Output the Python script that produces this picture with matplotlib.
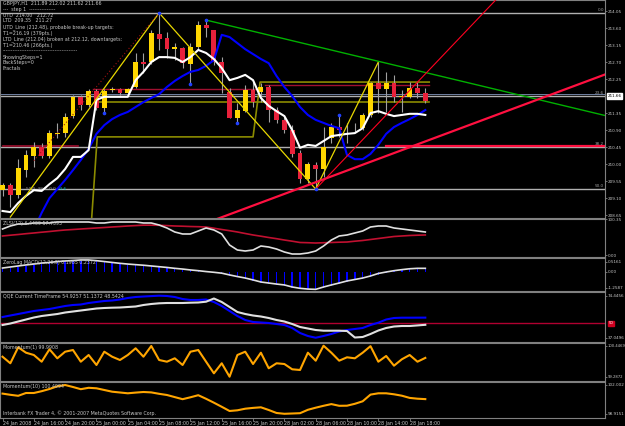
import numpy as np
import matplotlib.pyplot as plt
from matplotlib import transforms

W, H = 625, 426

# GBPJPY H1 bars
opens = [209.32, 209.45, 209.18, 209.84, 210.21, 210.45, 210.21, 210.80, 210.82, 211.27,
         211.78, 211.56, 211.93, 211.48, 211.96, 211.99, 211.88, 212.04, 212.70, 212.70,
         213.44, 213.34, 213.04, 213.07, 212.65, 213.10, 213.68, 213.55, 212.70, 211.91,
         211.22, 211.40, 211.96, 211.91, 212.04, 211.43, 211.17, 210.90, 210.29, 209.61,
         209.98, 209.87, 210.69, 210.98, 210.95, 210.95, 210.95, 211.30, 212.15, 211.99,
         212.15, 211.78, 211.78, 212.01, 211.89]
highs = [209.50, 209.50, 210.13, 210.37, 210.58, 210.56, 210.90, 211.09, 211.35, 211.83,
         211.83, 211.99, 211.99, 211.99, 212.04, 212.01, 212.01, 212.94, 212.94, 213.55,
         214.00, 213.49, 213.20, 213.10, 213.20, 213.79, 213.81, 213.55, 212.83, 212.01,
         211.62, 212.09, 212.17, 212.15, 212.09, 211.51, 211.25, 211.03, 210.37, 210.06,
         210.06, 210.98, 211.09, 211.30, 211.09, 211.09, 211.35, 212.17, 212.70, 212.44,
         212.36, 211.96, 212.17, 212.17, 212.02]
lows = [209.16, 208.87, 209.10, 209.66, 209.92, 210.16, 210.16, 210.69, 210.72, 211.22,
        211.43, 211.51, 211.43, 211.35, 211.91, 211.83, 211.83, 212.01, 212.41, 212.65,
        213.02, 212.81, 212.75, 212.54, 212.12, 213.02, 213.36, 212.62, 211.88, 211.22,
        211.09, 211.38, 211.51, 211.64, 211.11, 211.09, 210.82, 210.19, 209.50, 209.50,
        209.34, 209.66, 210.56, 210.72, 210.56, 210.85, 210.90, 211.25, 211.35, 211.38,
        211.64, 211.38, 211.75, 211.75, 211.62]
closes = [209.45, 209.18, 209.90, 210.24, 210.45, 210.21, 210.82, 210.82, 211.25, 211.78,
          211.56, 211.93, 211.48, 211.93, 211.99, 211.88, 211.99, 212.70, 212.65, 213.47,
          213.31, 213.04, 213.10, 212.67, 213.10, 213.68, 213.60, 212.70, 212.41, 211.22,
          211.43, 211.96, 211.64, 212.04, 211.43, 211.17, 210.90, 210.27, 209.61, 210.00,
          209.87, 210.45, 210.98, 210.90, 210.96, 210.96, 211.30, 212.15, 211.99, 212.15,
          211.78, 211.79, 212.01, 211.88, 211.66]

fast_ma = [208.76, 208.73, 208.97, 209.16, 209.31, 209.29, 209.47, 209.63, 209.87, 210.19,
           210.19, 210.37, 211.70, 211.78, 211.78, 211.78, 211.78, 212.22, 212.44, 212.70,
           212.83, 212.83, 212.81, 212.70, 212.83, 213.02, 212.94, 212.78, 212.54, 212.22,
           212.28, 212.36, 212.22, 211.75, 211.54, 211.40, 211.27, 210.90, 210.43, 210.51,
           210.48, 210.61, 210.74, 210.77, 210.80, 210.82, 210.95, 211.35, 211.40, 211.33,
           211.27, 211.30, 211.33, 211.33, 211.30]
slow_ma = [206.56, 206.99, 207.41, 207.83, 208.26, 208.71, 209.10, 209.34, 209.58, 209.84,
           210.11, 210.40, 210.80, 211.03, 211.19, 211.30, 211.38, 211.51, 211.64, 211.75,
           211.85, 212.04, 212.20, 212.33, 212.44, 212.49, 212.60, 212.75, 213.42, 213.36,
           213.20, 213.04, 212.91, 212.78, 212.67, 212.33, 212.04, 211.80, 211.51, 211.30,
           211.17, 211.09, 211.01, 210.95, 210.24, 210.13, 210.13, 210.27, 210.51, 210.80,
           210.98, 211.09, 211.19, 211.30, 211.43]

fractal_up = [20, 26, 43]
fractal_dn = [13, 24, 30, 40]

zigzag_bars = [1, 20, 40, 48]
zigzag_prices = [208.60, 214.00, 209.34, 212.70]

fib_levels = [0.0, 23.6, 38.2, 50.0]
fib_top, fib_bottom = 214.00, 204.70

utd_bars, utd_prices = [26, 48], [213.81, 212.72]
ltd_bars, ltd_prices = [40, 48], [209.34, 211.08]
support_bars, support_prices = [40, 54], [209.52, 210.60]
dotted_bars, dotted_prices = [4, 20], [210.09, 214.00]

step_bars = [11.2, 12.1, 32.0, 32.9, 54.5]
step_prices = [208.0, 210.72, 210.72, 212.17, 212.17]

# indicator windows
zlsi = [73.0, 81.1, 86.5, 86.5, 89.2, 89.2, 89.2, 91.9, 91.9, 91.9,
        91.9, 91.9, 89.2, 89.2, 91.9, 91.9, 91.9, 91.9, 89.2, 89.2,
        83.8, 75.7, 64.9, 59.5, 59.5, 67.6, 75.7, 70.3, 59.5, 29.7,
        16.2, 13.5, 16.2, 27.0, 24.3, 18.9, 10.8, 5.4, 5.4, 8.1,
        13.5, 27.0, 43.2, 54.1, 56.8, 62.2, 67.6, 78.4, 81.1, 81.1,
        75.7, 73.0, 70.3, 67.6, 64.9]
zlsi_signal = [54.1, 56.2, 58.1, 60.3, 62.2, 64.3, 66.2, 68.4, 70.3, 71.6,
               73.0, 74.3, 75.7, 77.0, 78.4, 79.7, 81.1, 82.2, 83.3, 83.3,
               83.0, 82.2, 81.1, 80.5, 79.7, 79.2, 78.4, 75.1, 71.6, 68.4,
               64.9, 60.8, 56.8, 53.5, 50.0, 46.8, 43.2, 40.0, 36.5, 35.9,
               35.1, 35.9, 36.5, 37.3, 37.8, 40.0, 41.9, 44.6, 47.3, 50.0,
               52.7, 54.1, 55.4, 56.2, 56.8]

macd_hist = [0.20, 0.28, 0.35, 0.42, 0.48, 0.55, 0.60, 0.66, 0.70, 0.73,
             0.75, 0.75, 0.72, 0.66, 0.60, 0.54, 0.49, 0.44, 0.40, 0.36,
             0.31, 0.26, 0.20, 0.15, 0.09, 0.04, -0.01, -0.07, -0.14, -0.27,
             -0.39, -0.50, -0.63, -0.76, -0.84, -0.91, -0.98, -1.08, -1.15, -1.19,
             -1.19, -1.10, -0.96, -0.83, -0.70, -0.58, -0.48, -0.36, -0.22, -0.10,
             0.02, 0.10, 0.16, 0.20, 0.21]
macd_line = [0.25, 0.32, 0.39, 0.46, 0.52, 0.59, 0.63, 0.69, 0.73, 0.76,
             0.80, 0.80, 0.75, 0.69, 0.63, 0.57, 0.52, 0.48, 0.44, 0.39,
             0.34, 0.29, 0.23, 0.18, 0.12, 0.07, 0.01, -0.04, -0.10, -0.22,
             -0.33, -0.43, -0.56, -0.70, -0.77, -0.84, -0.90, -1.04, -1.13, -1.18,
             -1.20, -1.04, -0.90, -0.77, -0.63, -0.53, -0.43, -0.29, -0.12, -0.02,
             0.07, 0.14, 0.20, 0.23, 0.23]

qqe_blue = [55.49, 56.82, 58.16, 59.49, 60.83, 61.72, 62.61, 63.94, 65.28, 66.17,
            66.61, 67.95, 68.84, 69.73, 70.17, 71.06, 72.40, 73.29, 73.73, 74.10,
            74.45, 74.18, 73.29, 71.51, 70.62, 70.62, 71.06, 68.84, 65.28, 60.83,
            56.38, 52.82, 51.04, 50.60, 50.15, 49.26, 48.37, 45.70, 41.25, 38.58,
            37.05, 38.58, 40.36, 42.59, 43.92, 44.81, 45.70, 48.37, 50.42, 53.26,
            54.60, 54.87, 54.87, 54.90, 54.93]
qqe_white = [48.37, 49.70, 51.48, 53.26, 55.04, 56.38, 57.27, 58.16, 59.49, 60.38,
             61.27, 62.16, 63.05, 63.50, 63.77, 63.94, 64.39, 64.83, 66.17, 67.06,
             67.68, 67.95, 67.95, 67.95, 68.22, 68.39, 69.11, 71.95, 68.84, 64.39,
             59.94, 58.16, 56.82, 55.93, 54.60, 52.82, 51.48, 49.26, 46.59, 45.25,
             43.92, 43.30, 43.30, 43.30, 43.03, 37.24, 37.69, 40.36, 43.47, 45.70,
             47.03, 47.48, 47.48, 48.00, 48.54]
qqe_level = 50.0

mom1 = [100.035, 99.789, 100.387, 100.185, 100.099, 99.848, 100.312, 99.975, 100.222, 100.286,
        99.848, 100.099, 99.725, 100.222, 100.035, 99.912, 100.099, 100.350, 100.035, 100.436,
        99.912, 99.848, 99.975, 99.725, 100.222, 100.286, 99.848, 99.414, 99.789, 99.287,
        100.099, 100.222, 99.762, 100.185, 99.602, 99.789, 99.762, 99.564, 99.538, 100.185,
        99.886, 100.447, 100.185, 99.886, 100.013, 99.975, 100.185, 100.430, 99.848, 100.062,
        99.699, 99.938, 100.099, 99.848, 99.991]
mom10 = [101.087, 100.959, 100.852, 101.150, 101.150, 101.342, 101.576, 101.864, 102.000, 101.789,
         101.555, 101.704, 101.651, 101.470, 101.289, 101.204, 101.119, 101.193, 101.257, 101.214,
         101.065, 100.938, 100.714, 100.491, 100.693, 100.916, 100.533, 100.118, 99.682, 99.235,
         99.309, 99.479, 99.565, 99.628, 99.341, 99.022, 98.937, 98.968, 99.000, 99.362,
         99.586, 99.788, 99.969, 99.788, 99.799, 100.001, 100.267, 100.980, 101.119, 101.119,
         101.012, 100.863, 100.629, 100.544, 100.499]

time_labels = ["24 Jan 2008", "24 Jan 16:00", "24 Jan 20:00", "25 Jan 00:00", "25 Jan 04:00",
               "25 Jan 08:00", "25 Jan 12:00", "25 Jan 16:00", "25 Jan 20:00", "28 Jan 02:00",
               "28 Jan 06:00", "28 Jan 10:00", "28 Jan 14:00", "28 Jan 18:00"]
price_ticks = [214.05, 213.60, 213.15, 212.70, 212.25, 211.35, 210.90, 210.45,
               210.00, 209.55, 209.10, 208.65]

info_lines = ["GBPJPY,H1  211.89 212.02 211.62 211.66",
              "---  step 1  ---------------",
              "UTD  214.00   212.72",
              "LTD  209.35   211.27",
              "UTD_Line (212.48), probable break-up targets:",
              "T1=216.19 (379pts.)",
              "LTD_Line (212.04) broken at 212.12, downtargets:",
              "T1=210.46 (266pts.)",
              "-------------------------------------------",
              "ShowingSteps=1",
              "BackSteps=0",
              "Fractals"]
info_y = [4, 10, 15.5, 21, 27, 33, 39, 45, 51, 57, 62.5, 68]

GRAY = '#808080'
TXT = '#C8C8C8'
FS = 3.4
AXFS = 3.0

fig = plt.figure(figsize=(W / 100, H / 100), dpi=100, facecolor='black')
xlim = (-0.32, 76.95)
idx = np.arange(len(opens))


def panel(top, bottom, ylim, labelsize=AXFS):
    ax = fig.add_axes([0, 1 - bottom / H, 605 / W, (bottom - top) / H])
    ax.set_facecolor('black')
    ax.set_xlim(*xlim)
    ax.set_ylim(*ylim)
    for s in ax.spines.values():
        s.set_color(GRAY)
        s.set_linewidth(0.8)
    ax.yaxis.tick_right()
    ax.tick_params(colors=GRAY, labelcolor=TXT, labelsize=labelsize, length=1.5, width=0.6, pad=0.6)
    ax.set_xticks([])
    return ax


def ray(ax, bars, prices, x0, x1, **kw):
    slope = (prices[1] - prices[0]) / (bars[1] - bars[0])
    xs = np.array([x0, x1])
    ax.plot(xs, prices[0] + slope * (xs - bars[0]), **kw)


# ---------- main window
ax = panel(0, 218, (208.574, 214.341))
ax.set_yticks(price_ticks)
ax.set_yticklabels(['%.2f' % p for p in price_ticks])

for lvl in fib_levels:
    p = fib_top - (fib_top - fib_bottom) * lvl / 100
    ax.axhline(p, color='#B0B0B0', lw=1.0, zorder=1)
    ax.text(76.8, p + 0.03, '%.1f' % lvl, color='#A0A0A0', fontsize=3.0, ha='right', va='bottom')
ax.axhline(211.86, color='#7080A0', lw=0.7, zorder=1)

ax.plot([0, 9.6], [210.49, 210.49], color='#A01030', lw=1.2, zorder=1)
ax.plot([49, 77], [210.49, 210.49], color='#FF1040', lw=1.6, zorder=1)
ax.plot([11.6, 33.2], [211.99, 211.99], color='#A01030', lw=1.0, zorder=1)
ax.plot([33.5, 54.5], [212.10, 212.10], color='#A01030', lw=1.0, zorder=1)
ax.plot([12.1, 54.5], [211.65, 211.65], color='#8B8B00', lw=1.2, zorder=1)
ax.plot(step_bars, step_prices, color='#8B8B00', lw=1.2, zorder=1)
ax.text(3, 209.30, '50.0  38.2  0.0', color='#A0A0A0', fontsize=3.0, va='bottom')
ax.text(7, 209.30, '23.6', color='#00C0C0', fontsize=3.0, va='bottom')

o, h, l, c = map(np.array, (opens, highs, lows, closes))
up = c >= o
lo = np.minimum(o, c)
bh = np.maximum(np.abs(c - o), 0.015)
ax.vlines(idx, l, h, color='#A0A0A0', lw=0.8, zorder=2)
ax.bar(idx[up], bh[up], bottom=lo[up], width=0.62, color='#FFD700', lw=0, zorder=3)
ax.bar(idx[~up], bh[~up], bottom=lo[~up], width=0.62, color='#E8213B', lw=0, zorder=3)

ax.plot(idx, slow_ma, color='#0000FF', lw=1.5, zorder=4)
ax.plot(idx, fast_ma, color='white', lw=1.5, zorder=4)

ax.plot(zigzag_bars, zigzag_prices, color='#E8D800', lw=0.9, zorder=5)
ax.plot(dotted_bars, dotted_prices, color='#A01010', lw=0.8, ls=(0, (1, 2)), zorder=5)
ray(ax, utd_bars, utd_prices, 26, 77, color='#00B000', lw=1.0, zorder=5)
ray(ax, ltd_bars, ltd_prices, 40, 77, color='#FF0020', lw=0.8, zorder=5)
ray(ax, support_bars, support_prices, 27, 77, color='#FF1040', lw=1.6, zorder=5)

ax.plot(fractal_up, h[fractal_up], 'o', color='#2040FF', ms=1.6, zorder=6)
ax.plot(fractal_dn, l[fractal_dn], 'o', color='#2040FF', ms=1.6, zorder=6)

tr = transforms.blended_transform_factory(ax.transAxes, ax.transData)
ax.text(1.004, 211.80, '211.66', transform=tr, fontsize=AXFS, color='black', va='center',
        bbox=dict(boxstyle='square,pad=0.15', fc='white', ec='white'))

for s, y in zip(info_lines, info_y):
    fig.text(3 / W, 1 - y / H, s, color=TXT, fontsize=FS, va='center')

# ---------- ZLSI window
ax1 = panel(219, 257, (-2.7, 100.0))
ax1.plot(idx, zlsi_signal, color='#C01030', lw=1.2)
ax1.plot(idx, zlsi, color='#E0E0E0', lw=1.2)
ax1.set_yticks([100.0, 2.5])
ax1.set_yticklabels(['100.35', '0.00'])
ax1.text(0.005, 0.95, 'ZLSI(12) 6.4409 57.7393', transform=ax1.transAxes, color=TXT,
         fontsize=FS, va='top')

# ---------- ZeroLag MACD window
ax2 = panel(258, 291, (-1.312, 0.932))
ax2.bar(idx, macd_hist, width=0.18, color='#0000FF', lw=0)
ax2.plot(idx, macd_line, color='#E0E0E0', lw=1.2)
ax2.set_yticks([0.68, 0.0, -1.105])
ax2.set_yticklabels(['0.5161', '0.00', '-1.2587'])
ax2.text(0.005, 0.95, 'ZeroLag MACD(12,26,9) 0.1985 0.2372', transform=ax2.transAxes,
         color=TXT, fontsize=FS, va='top')

# ---------- QQE window
ax3 = panel(292, 342, (33.24, 77.74))
ax3.axhline(qqe_level, color='#B00030', lw=1.0)
ax3.plot(idx, qqe_blue, color='#0000FF', lw=1.5)
ax3.plot(idx, qqe_white, color='#E0E0E0', lw=1.5)
ax3.set_yticks([74.4456, 37.0496])
ax3.set_yticklabels(['74.4456', '37.0496'])
tr3 = transforms.blended_transform_factory(ax3.transAxes, ax3.transData)
ax3.text(1.006, qqe_level, '50', transform=tr3, fontsize=2.8, color='white', va='center',
         bbox=dict(boxstyle='square,pad=0.15', fc='#D00020', ec='#D00020'))
ax3.text(0.005, 0.96, 'QQE Current TimeFrame 54.9257 51.1372 48.5424', transform=ax3.transAxes,
         color=TXT, fontsize=FS, va='top')

# ---------- Momentum(1)
ax4 = panel(343, 381, (99.126, 100.548), labelsize=2.7)
ax4.plot(idx, mom1, color='#FFA500', lw=1.5)
ax4.set_yticks([100.4469, 99.2872])
ax4.set_yticklabels(['100.4469', '99.2872'])
ax4.text(0.005, 0.95, 'Momentum(1) 99.9908', transform=ax4.transAxes, color=TXT,
         fontsize=FS, va='top')

# ---------- Momentum(10)
ax5 = panel(382, 418, (98.489, 102.321))
ax5.plot(idx, mom10, color='#FFA500', lw=1.5)
ax5.set_yticks([102.002, 98.9151])
ax5.set_yticklabels(['102.002', '98.9151'])
ax5.text(0.005, 0.95, 'Momentum(10) 100.4994', transform=ax5.transAxes, color=TXT,
         fontsize=FS, va='top')
ax5.text(0.005, 0.06, 'Interbank FX Trader 4, \u00a9 2001-2007 MetaQuotes Software Corp.',
         transform=ax5.transAxes, color=TXT, fontsize=FS, va='bottom')
ax5.set_xticks(np.arange(0, 4 * len(time_labels), 4))
ax5.set_xticklabels(time_labels, ha='left', fontsize=FS)
ax5.tick_params(axis='x', length=2, pad=0.5)

fig.savefig('out.png', dpi=100, facecolor='black')
